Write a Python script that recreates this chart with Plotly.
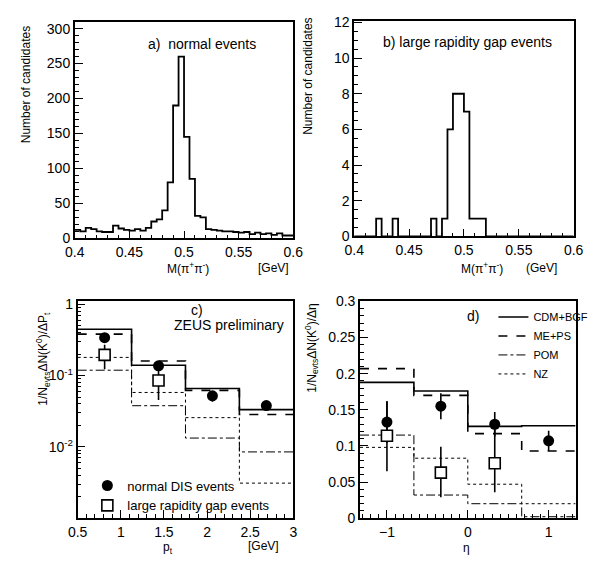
import math
import plotly.graph_objects as go

# ---------------- data ----------------
# panel a/b: invariant mass histograms, 40 bins of 5 MeV from 0.40 to 0.60 GeV
mass_edges = [round(0.4 + 0.005 * i, 3) for i in range(41)]
a_counts = [12, 10, 15, 13, 10, 9, 9, 18, 14, 12, 11, 13, 11, 15, 24, 27, 40, 80, 190, 260,
            145, 85, 32, 30, 13, 12, 11, 10, 10, 9, 8, 9, 6, 8, 6, 7, 5, 7, 4, 4]
b_counts = [0, 0, 0, 0, 1, 0, 0, 1, 0, 0, 0, 0, 0, 0, 1, 0, 1, 6, 8, 8,
            7, 1, 1, 1, 0, 0, 0, 0, 0, 0, 0, 0, 0, 0, 0, 0, 0, 0, 0, 0]

# panel c: pt distributions
pt_edges = [0.5, 1.125, 1.75, 2.375, 3.0]
pt_centers = [0.8125, 1.4375, 2.0625, 2.6875]
pt_cdm = [0.447, 0.14, 0.066, 0.0333]
pt_meps = [0.382, 0.16, 0.062, 0.0285]
pt_pom = [0.119, 0.0378, 0.0133, 0.0085]
pt_nz = [0.18, 0.058, 0.0257, 0.0031]
pt_dis = [0.34, 0.137, 0.052, 0.038]
pt_dis_err = [0.03, 0.015, 0.009, 0.006]
pt_lrg_x = [0.8125, 1.4375]
pt_lrg = [0.195, 0.0855]
pt_lrg_up = [0.075, 0.0375]
pt_lrg_dn = [0.072, 0.04]

# panel d: eta distributions
eta_edges = [-4 / 3, -2 / 3, 0.0, 2 / 3, 4 / 3]
eta_centers = [-1.0, -1 / 3, 1 / 3, 1.0]
eta_cdm = [0.188, 0.176, 0.127, 0.128]
eta_meps = [0.207, 0.170, 0.117, 0.093]
eta_pom = [0.115, 0.032, 0.020, 0.002]
eta_nz = [0.098, 0.083, 0.047, 0.020]
eta_dis = [0.133, 0.155, 0.130, 0.107]
eta_dis_err = [0.029, 0.018, 0.017, 0.014]
eta_lrg_x = [-1.0, -1 / 3, 1 / 3]
eta_lrg = [0.114, 0.063, 0.076]
eta_lrg_up = [0.048, 0.036, 0.057]
eta_lrg_dn = [0.049, 0.034, 0.040]

model_names = ["CDM+BGF", "ME+PS", "POM", "NZ"]
model_dash = ["solid", "dash", "dashdot", "dot"]
model_width = [1.6, 1.6, 1.0, 1.0]

log_major = [0.01, 0.1, 1]
log_major_text = ["10<sup>-2</sup>", "10<sup>-1</sup>", "1"]

FONT = "Liberation Sans"
fig = go.Figure()


def steps(edges, vals):
    return list(edges), list(vals) + [vals[-1]]


# --- a ---
x, y = steps(mass_edges, a_counts)
fig.add_trace(go.Scatter(x=x, y=y, mode="lines", line=dict(shape="hv", color="black", width=1.8),
                         xaxis="x", yaxis="y", showlegend=False))
# --- b ---
x, y = steps(mass_edges, b_counts)
fig.add_trace(go.Scatter(x=x, y=y, mode="lines", line=dict(shape="hv", color="black", width=1.8),
                         xaxis="x2", yaxis="y2", showlegend=False))

# --- c models ---
for name, vals, dash, w in zip(model_names, [pt_cdm, pt_meps, pt_pom, pt_nz], model_dash, model_width):
    x, y = steps(pt_edges, vals)
    fig.add_trace(go.Scatter(x=x, y=y, mode="lines", name=name,
                             line=dict(shape="hv", color="black", width=w, dash=dash),
                             xaxis="x3", yaxis="y3", showlegend=False))
# --- d models ---
for name, vals, dash, w in zip(model_names, [eta_cdm, eta_meps, eta_pom, eta_nz], model_dash, model_width):
    x, y = steps(eta_edges, vals)
    fig.add_trace(go.Scatter(x=x, y=y, mode="lines", name=name,
                             line=dict(shape="hv", color="black", width=w, dash=dash),
                             xaxis="x4", yaxis="y4", showlegend=True, legend="legend"))

# --- data points c ---
fig.add_trace(go.Scatter(x=pt_centers, y=pt_dis, mode="markers", name="normal DIS events",
                         marker=dict(symbol="circle", size=11, color="black"),
                         error_y=dict(type="data", array=pt_dis_err, color="black", thickness=1.6, width=0),
                         xaxis="x3", yaxis="y3", legend="legend2"))
fig.add_trace(go.Scatter(x=pt_lrg_x, y=pt_lrg, mode="markers", name="large rapidity gap events",
                         marker=dict(symbol="square", size=11, color="white", line=dict(color="black", width=1.6)),
                         error_y=dict(type="data", symmetric=False, array=pt_lrg_up, arrayminus=pt_lrg_dn,
                                      color="black", thickness=1.6, width=0),
                         xaxis="x3", yaxis="y3", legend="legend2"))
# --- data points d ---
fig.add_trace(go.Scatter(x=eta_centers, y=eta_dis, mode="markers", showlegend=False,
                         marker=dict(symbol="circle", size=11, color="black"),
                         error_y=dict(type="data", array=eta_dis_err, color="black", thickness=1.6, width=0),
                         xaxis="x4", yaxis="y4"))
fig.add_trace(go.Scatter(x=eta_lrg_x, y=eta_lrg, mode="markers", showlegend=False,
                         marker=dict(symbol="square", size=11, color="white", line=dict(color="black", width=1.6)),
                         error_y=dict(type="data", symmetric=False, array=eta_lrg_up, arrayminus=eta_lrg_dn,
                                      color="black", thickness=1.6, width=0),
                         xaxis="x4", yaxis="y4"))

tickfont = dict(family=FONT, size=14, color="black")


def ax(domain, anchor, rng, dtick=None, minor_dtick=None, **kw):
    d = dict(domain=domain, anchor=anchor, range=rng, showline=True, linecolor="black", linewidth=1.6,
             mirror=True, ticks="inside", ticklen=8, tickwidth=1.2, tickcolor="black",
             showgrid=False, zeroline=False, tickfont=tickfont)
    if dtick is not None:
        d["dtick"] = dtick
    if minor_dtick is not None:
        d["minor"] = dict(dtick=minor_dtick, ticks="inside", ticklen=4, tickcolor="black", tickwidth=1, showgrid=False)
    d.update(kw)
    return d


# minor ticks for the log axis: 2..9 times each decade
log_minor = [m * 10 ** e for e in (-3, -2, -1) for m in range(2, 10)]

W, H = 603, 566
xa = [67 / W, 293 / W]
xb = [356 / W, 583 / W]
xc = [70 / W, 293 / W]
xd = [362 / W, 585 / W]
ytop = [1 - 237 / H, 1 - 14 / H]
ytopb = [1 - 235 / H, 1 - 13 / H]
ybot = [1 - 525 / H, 1 - 302 / H]

fig.update_layout(
    width=W, height=H, margin=dict(l=0, r=0, t=0, b=0),
    paper_bgcolor="white", plot_bgcolor="white",
    font=dict(family=FONT, color="black"),
    xaxis=ax(xa, "y", [0.4, 0.6], 0.05, 0.01),
    yaxis=ax(ytop, "x", [0, 310], 50, 10),
    xaxis2=ax(xb, "y2", [0.4, 0.6], 0.05, 0.01),
    yaxis2=ax(ytopb, "x2", [0, 12.1], 2, 0.5),
    xaxis3=ax(xc, "y3", [0.5, 3.0], 0.5, 0.1),
    yaxis3=ax(ybot, "x3", [-3, 0.04], type="log", tickvals=log_major, ticktext=log_major_text,
              minor=dict(tickvals=log_minor, ticks="inside", ticklen=4, tickcolor="black", tickwidth=1,
                         showgrid=False)),
    xaxis4=ax(xd, "y4", [-4 / 3, 4 / 3], 1, 0.1, tickvals=[-1, 0, 1], ticktext=["\u22121", "0", "1"]),
    yaxis4=ax(ybot, "x4", [0, 0.3], 0.05, 0.01),
    legend=dict(x=500 / W, y=1 - 303 / H, xanchor="left", yanchor="top", bgcolor="rgba(0,0,0,0)",
                font=dict(family=FONT, size=11, color="black"), itemwidth=30, tracegroupgap=0,
                traceorder="normal"),
    legend2=dict(x=80 / W, y=1 - 476 / H, xanchor="left", yanchor="top", bgcolor="rgba(0,0,0,0)",
                 font=dict(family=FONT, size=13, color="black"), itemwidth=30, tracegroupgap=0,
                 traceorder="normal"),
)

ann = [
    dict(text="a)  normal events", x=0.516, y=278, xref="x", yref="y", font_size=14),
    dict(text="b) large rapidity gap events", x=0.503, y=10.9, xref="x2", yref="y2", font_size=14),
    dict(text="c)", x=1.88, y=-0.08, xref="x3", yref="y3", font_size=14),
    dict(text="ZEUS preliminary", x=2.26, y=-0.29, xref="x3", yref="y3", font_size=14),
    dict(text="d)", x=0.06, y=0.28, xref="x4", yref="y4", font_size=14),
]
paper_ann = [
    ("M(\u03c0<sup>+</sup>\u03c0<sup>-</sup>)", 184, 268, 0),
    ("[GeV]", 273, 268, 0),
    ("M(\u03c0<sup>+</sup>\u03c0<sup>-</sup>)", 488, 268, 0),
    ("(GeV]", 550, 268, 0),
    ("p<sub>t</sub>", 163, 556, 0),
    ("[GeV]", 262, 554, 0),
    ("\u03b7", 472, 556, 0),
    ("Number of candidates", 16, 79, -90),
    ("Number of candidates", 308, 70, -90),
    ("1/N<sub>evts</sub>\u0394N(K<sup>0</sup>)/\u0394P<sub>t</sub>", 34, 361, -90),
    ("1/N<sub>evts</sub>\u0394N(K<sup>0</sup>)/\u0394\u03b7", 312, 350, -90),
]
for a in ann:
    fig.add_annotation(showarrow=False, xanchor="center", yanchor="middle",
                       font=dict(family=FONT, size=a.pop("font_size"), color="black"), **a)
for t, px, py, ang in paper_ann:
    fig.add_annotation(text=t, x=px / W, y=1 - py / H, xref="paper", yref="paper", showarrow=False,
                       xanchor="center", yanchor="middle",
                       textangle=ang, font=dict(family=FONT, size=12, color="black"))

fig.write_html("out.html")
